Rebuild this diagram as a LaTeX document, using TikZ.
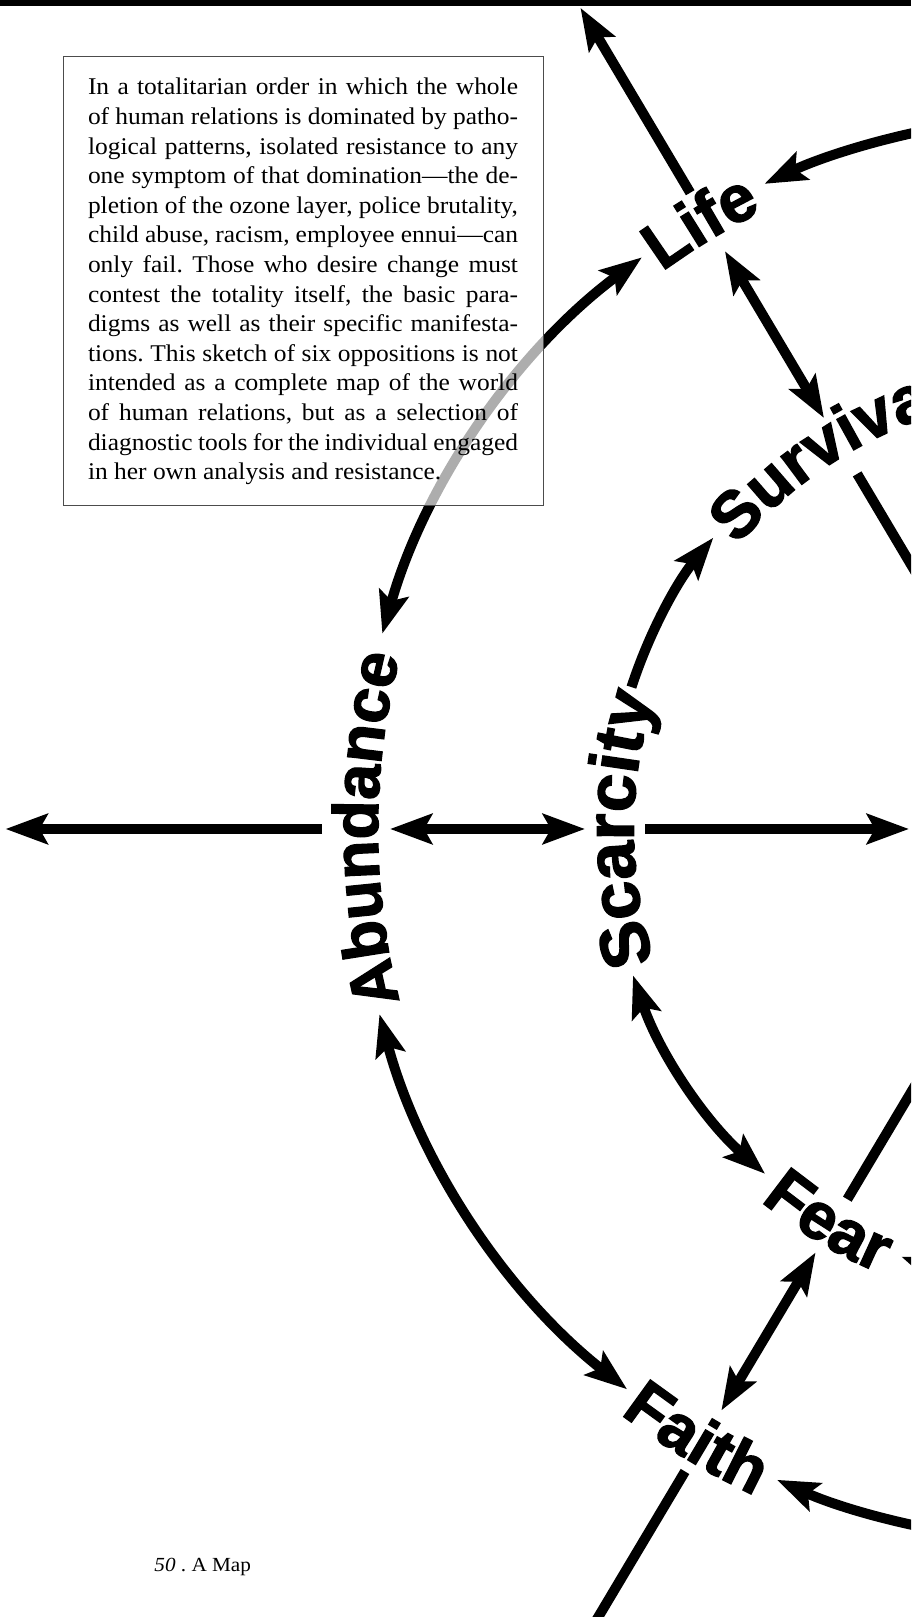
\documentclass[tikz,border=0pt]{standalone}
\usepackage{fontspec}
\setmainfont{Liberation Serif}[FakeStretch=1.06]
\newfontfamily\labelfam{Liberation Sans}[BoldFeatures={FakeBold=2}]
\usetikzlibrary{arrows.meta,decorations.text}
\newcommand{\labelfont}{\labelfam\bfseries\fontsize{33pt}{33pt}\selectfont}
\newcommand{\labelfontS}{\labelfam\bfseries\fontsize{32pt}{32pt}\selectfont}
\newcommand{\labelfontL}{\labelfam\bfseries\fontsize{34.5pt}{34.5pt}\selectfont}
\newcommand{\Ro}{713}
\newcommand{\Ri}{459}
\frenchspacing

\begin{document}
\begin{tikzpicture}[
  x=0.5pt, y=0.5pt,
  >={Stealth[length=21pt, width=15pt, inset=4pt]},
  ring/.style={line width=5pt},
  spoke/.style={line width=5pt},
  maplabel/.style 2 args={decorate,
    decoration={text along path, text align=center, text={|#2|#1}}},
  blurb/.style={draw=black!70, line width=0.5pt, fill=white,
                fill opacity=0.68, text opacity=1,
                minimum width=240pt, minimum height=224.5pt,
                text width=215pt, align=justify, inner sep=0pt,
                font=\fontsize{12pt}{14.8pt}\selectfont},
  folio/.style={font=\fontsize{10pt}{12pt}\selectfont, inner sep=0pt}
]
  \useasboundingbox (0,0) rectangle (911,1617);
  \clip (0,0) rectangle (911,1617);

  % rule across the top of the page
  \fill (0,1611) rectangle (911,1617);

  % the rings are centred off the right edge of the page
  \coordinate (ctr) at (1068,788);
  \coordinate (life)  at ([shift={(120.7:\Ro)}]ctr);
  \coordinate (surv)  at ([shift={(120.7:\Ri)}]ctr);
  \coordinate (abund) at ([shift={(180:\Ro)}]ctr);
  \coordinate (scarc) at ([shift={(180:\Ri)}]ctr);
  \coordinate (faith) at ([shift={(239.2:\Ro)}]ctr);
  \coordinate (fear)  at ([shift={(239.2:\Ri)}]ctr);
  % free ends of the spokes
  \coordinate (lifeOut)  at ([shift={(120.7:955)}]ctr);
  \coordinate (survIn)   at ([shift={(120.7:290)}]ctr);
  \coordinate (abundOut) at ([shift={(180:1062.5)}]ctr);
  \coordinate (scarcIn)  at ([shift={(180:159)}]ctr);
  \coordinate (fearIn)   at ([shift={(239.2:290)}]ctr);
  \coordinate (faithOut) at ([shift={(239.2:950)}]ctr);

  % labels, set along the rings
  \path[maplabel={Life}{\labelfont}]
    ([shift={(141.2:689.4)}]ctr) arc[start angle=141.2, end angle=101.2, radius=689.4];
  \path[maplabel={Abundance}{\labelfontS}]
    ([shift={(200:690.1)}]ctr) arc[start angle=200, end angle=160, radius=690.1];
  \path[maplabel={Faith}{\labelfont}]
    ([shift={(218.7:736.6)}]ctr) arc[start angle=218.7, end angle=258.7, radius=736.6];
  \path[maplabel={Survival}{\labelfont}]
    ([shift={(142.5:435.4)}]ctr) arc[start angle=142.5, end angle=102.5, radius=435.4];
  \path[maplabel={Scarcity}{\labelfontL}]
    ([shift={(205:434.3)}]ctr) arc[start angle=205, end angle=155, radius=434.3];
  \path[maplabel={Fear}{\labelfont}]
    ([shift={(218.7:482.6)}]ctr) arc[start angle=218.7, end angle=258.7, radius=482.6];

  % outer ring
  \draw[ring, ->] ([shift={(100:\Ro)}]ctr) arc[start angle=100, end angle=115.2, radius=\Ro];
  \draw[ring, <->] ([shift={(126.7:\Ro)}]ctr) arc[start angle=126.7, end angle=164.1, radius=\Ro];
  \draw[ring, <->] ([shift={(195.05:\Ro)}]ctr) arc[start angle=195.05, end angle=231.8, radius=\Ro];
  \draw[ring, ->] ([shift={(262:\Ro)}]ctr) arc[start angle=262, end angle=245.9, radius=\Ro];
  % inner ring
  \draw[ring, ->] ([shift={(162:\Ri)}]ctr) arc[start angle=162, end angle=140.6, radius=\Ri];
  \draw[ring, <->] ([shift={(198.6:\Ri)}]ctr) arc[start angle=198.6, end angle=228.7, radius=\Ri];
  \draw[ring, ->] ([shift={(262:\Ri)}]ctr) arc[start angle=262, end angle=248.7, radius=\Ri];

  % spokes
  \draw[spoke, ->, shorten <=13.5pt] (life) -- (lifeOut);
  \draw[spoke, <->, shorten <=20.5pt, shorten >=9.5pt] (life) -- (surv);
  \draw[spoke, shorten <=23pt] (surv) -- (survIn);
  \draw[spoke, ->, shorten <=16.5pt] (abund) -- (abundOut);
  \draw[spoke, <->, shorten <=17.5pt, shorten >=12pt] (abund) -- (scarc);
  \draw[spoke, ->, shorten <=18pt] (scarc) -- (scarcIn);
  \draw[spoke, <->, shorten <=17pt, shorten >=18pt] (fear) -- (faith);
  \draw[spoke, shorten <=14pt] (fear) -- (fearIn);
  \draw[spoke, shorten <=17.5pt] (faith) -- (faithOut);

  \node[blurb] (blurb) at (303,1335.5) {In a totalitarian order in which the whole\linebreak
    of human relations is dominated by patho-\linebreak
    logical patterns, isolated resistance to any\linebreak
    one symptom of that domination---the de-\linebreak
    pletion of the ozone layer, police brutality,\linebreak
    child abuse, racism, employee ennui---can\linebreak
    only fail. Those who desire change must\linebreak
    contest the totality itself, the basic para-\linebreak
    digms as well as their specific manifesta-\linebreak
    tions. This sketch of six oppositions is not\linebreak
    intended as a complete map of the world\linebreak
    of human relations, but as a selection of\linebreak
    diagnostic tools for the individual engaged\linebreak
    in her own analysis and resistance.};

  \node[folio, anchor=base west] (folio) at (154,46) {\textit{50} . A Map};
\end{tikzpicture}
\end{document}
